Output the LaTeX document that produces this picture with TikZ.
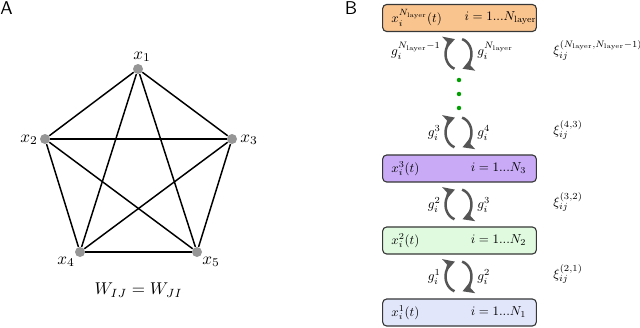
\documentclass[tikz,border=0pt]{standalone}
\usepackage{graphicx}
\usetikzlibrary{arrows.meta,calc}
\definecolor{vgray}{RGB}{150,150,150}
\definecolor{cycgray}{RGB}{85,85,85}
\definecolor{orangefill}{RGB}{250,196,142}
\definecolor{purplefill}{RGB}{200,170,246}
\definecolor{greenfill}{RGB}{224,250,224}
\definecolor{bluefill}{RGB}{226,230,251}
\definecolor{boxborder}{RGB}{55,55,55}
\definecolor{dotgreen}{RGB}{0,160,0}
\tikzset{
  vtx/.style={circle,fill=vgray,inner sep=0pt,minimum size=5.4pt},
  edge/.style={line width=0.8pt,black},
  vlab/.style={inner sep=1pt},
  panel/.style={font=\sffamily\fontsize{10}{12}\selectfont,inner sep=0pt},
  layerbox/.style={draw=boxborder,line width=0.6pt,rounded corners=2.2pt,minimum width=83pt,minimum height=14.6pt,inner sep=0pt},
  boxtxt/.style={inner sep=0pt},
  glab/.style={inner sep=0pt},
  cyc/.style={line width=1.35pt,cycgray,-{Stealth[length=6pt,width=6.8pt,inset=1.4pt]}},
  gdot/.style={circle,fill=dotgreen,inner sep=0pt,minimum size=2.4pt},
}
\newcommand{\Nl}{N_{\mathrm{layer}}}
\newcommand{\psc}[1]{\scalebox{0.92}{$#1$}}
\newcommand{\gsc}[1]{\scalebox{0.72}{$#1$}}
\newcommand{\bsc}[1]{\scalebox{0.70}{$#1$}}
\begin{document}
\begin{tikzpicture}[x=0.54pt,y=0.54pt]
\useasboundingbox (0,0) rectangle (640,-327);
% panel labels
\node[panel] (lA) at (6.5,-8.5) {A};
\node[panel] (lB) at (351,-8.5) {B};
% pentagon
\node[vtx] (v1) at (138,-69) {};
\node[vtx] (v2) at (45,-139) {};
\node[vtx] (v3) at (232,-139) {};
\node[vtx] (v4) at (80,-252) {};
\node[vtx] (v5) at (197,-252) {};
\foreach \a/\b in {1/2,1/3,1/4,1/5,2/3,2/4,2/5,3/4,3/5,4/5}
  \draw[edge] (v\a) -- (v\b);
\node[vlab] (t1) at (142,-57) {\psc{x_1}};
\node[vlab] (t2) at (29,-140) {\psc{x_2}};
\node[vlab] (t3) at (249,-140) {\psc{x_3}};
\node[vlab] (t4) at (66,-262) {\psc{x_4}};
\node[vlab] (t5) at (211,-262) {\psc{x_5}};
\node[vlab] (w) at (138.5,-290) {\psc{W_{IJ}=W_{JI}}};
% layer boxes
\node[layerbox,fill=orangefill] (L4) at (459.5,-18) {};
\node[layerbox,fill=purplefill] (L3) at (459.5,-168.5) {};
\node[layerbox,fill=greenfill] (L2) at (459.5,-240.5) {};
\node[layerbox,fill=bluefill] (L1) at (459.5,-312.5) {};
\node[boxtxt,anchor=west] (a4) at ($(L4.west)+(9,0)$) {\bsc{x_i^{\Nl}(t)}};
\node[boxtxt] (b4) at ($(L4.center)+(41,0)$) {\bsc{i=1...\Nl}};
\node[boxtxt,anchor=west] (a3) at ($(L3.west)+(9,0)$) {\bsc{x_i^{3}(t)}};
\node[boxtxt] (b3) at ($(L3.center)+(39,0)$) {\bsc{i=1...N_3}};
\node[boxtxt,anchor=west] (a2) at ($(L2.west)+(9,0)$) {\bsc{x_i^{2}(t)}};
\node[boxtxt] (b2) at ($(L2.center)+(39,0)$) {\bsc{i=1...N_2}};
\node[boxtxt,anchor=west] (a1) at ($(L1.west)+(9,0)$) {\bsc{x_i^{1}(t)}};
\node[boxtxt] (b1) at ($(L1.center)+(39,0)$) {\bsc{i=1...N_1}};
% cycle arrow centres
\coordinate (c4) at (458.5,-54);
\coordinate (c3) at (458.5,-132.5);
\coordinate (c2) at (458.5,-204.5);
\coordinate (c1) at (458.5,-276.5);
\foreach \c in {c1,c2,c3,c4}{
  \draw[cyc] ($(\c)+({13*cos(252)},{15.5*sin(252)})$) arc[start angle=252,end angle=106,x radius=13,y radius=15.5];
  \draw[cyc] ($(\c)+({13*cos(74)},{15.5*sin(74)})$) arc[start angle=74,end angle=-72,x radius=13,y radius=15.5];
}
% dots
\node[gdot] (d1) at (459,-80) {};
\node[gdot] (d2) at (459,-94) {};
\node[gdot] (d3) at (459,-108) {};
% g labels
\node[glab,anchor=east] (g4l) at (441,-51) {\gsc{g_i^{\Nl-1}}};
\node[glab,anchor=west] (g4r) at (477,-51) {\gsc{g_i^{\Nl}}};
\node[glab,anchor=east] (g3l) at (441,-133) {\gsc{g_i^{3}}};
\node[glab,anchor=west] (g3r) at (477,-133) {\gsc{g_i^{4}}};
\node[glab,anchor=east] (g2l) at (441,-205) {\gsc{g_i^{2}}};
\node[glab,anchor=west] (g2r) at (477,-205) {\gsc{g_i^{3}}};
\node[glab,anchor=east] (g1l) at (441,-277) {\gsc{g_i^{1}}};
\node[glab,anchor=west] (g1r) at (477,-277) {\gsc{g_i^{2}}};
% xi labels
\node[glab,anchor=west] (x4) at (553,-50) {\gsc{\xi_{ij}^{(\Nl,\Nl-1)}}};
\node[glab,anchor=west] (x3) at (553,-130) {\gsc{\xi_{ij}^{(4,3)}}};
\node[glab,anchor=west] (x2) at (553,-202) {\gsc{\xi_{ij}^{(3,2)}}};
\node[glab,anchor=west] (x1) at (553,-274) {\gsc{\xi_{ij}^{(2,1)}}};
\end{tikzpicture}
\end{document}
